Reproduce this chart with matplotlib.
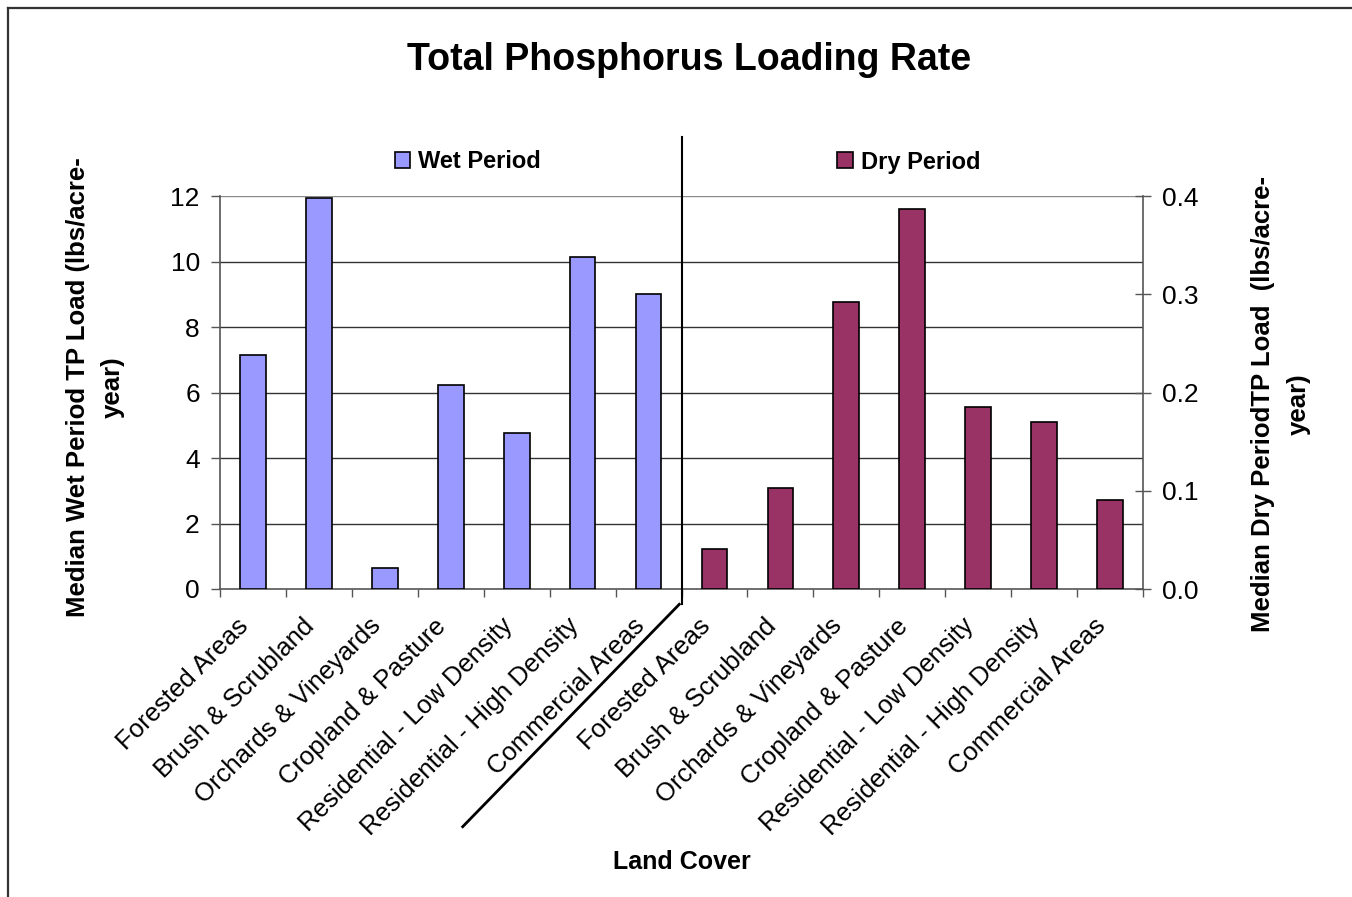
import matplotlib
matplotlib.use("Agg")
import matplotlib.pyplot as plt
import numpy as np
from matplotlib.patches import Patch
from matplotlib.lines import Line2D
import matplotlib.transforms as mtransforms

plt.rcParams['font.family'] = ['Liberation Sans', 'DejaVu Sans']

land_cover = ["Forested Areas", "Brush & Scrubland", "Orchards & Vineyards",
              "Cropland & Pasture", "Residential - Low Density",
              "Residential - High Density", "Commercial Areas"]
wet_values = [7.15, 11.95, 0.64, 6.23, 4.75, 10.15, 9.0]
dry_values = [0.041, 0.103, 0.292, 0.387, 0.185, 0.170, 0.091]
left_ticks = [0, 2, 4, 6, 8, 10, 12]
right_ticks = [0.0, 0.1, 0.2, 0.3, 0.4]

wet_color = "#9999FF"
dry_color = "#993366"

W, H = 1352, 897
fig = plt.figure(figsize=(W / 100, H / 100), dpi=100)
ax = fig.add_axes([220 / W, 1 - 589 / H, (1143 - 220) / W, (589 - 196) / H])
ax2 = ax.twinx()

n = len(land_cover)
x_wet = np.arange(n)
x_dry = np.arange(n) + n
bw = 0.39

ax.bar(x_wet, wet_values, width=bw, color=wet_color, edgecolor="black", linewidth=1.2, zorder=3)
ax2.bar(x_dry, dry_values, width=bw, color=dry_color, edgecolor="black", linewidth=1.2, zorder=3)

ax.set_xlim(-0.5, 2 * n - 0.5)
ax.set_ylim(0, 12)
ax2.set_ylim(0, 0.4)

ax.set_yticks(left_ticks)
ax.set_yticklabels([str(t) for t in left_ticks])
ax2.set_yticks(right_ticks)
ax2.set_yticklabels([f"{t:.1f}" for t in right_ticks])

for t in left_ticks[1:]:
    ax.axhline(t, color="#8a8a8a" if t == left_ticks[-1] else "#333333", linewidth=1.0, zorder=1)

# x ticks at boundaries, labels at centers
ax.set_xticks(np.arange(-0.5, 2 * n, 1.0))
ax.set_xticklabels([])
ax.set_xticks(np.arange(2 * n), minor=True)
ax.set_xticklabels(land_cover + land_cover, minor=True, rotation=45,
                   ha="right", va="center", rotation_mode="anchor", fontsize=18.5)
ax.tick_params(axis="x", which="minor", length=0, pad=24)
ax.tick_params(axis="x", which="major", direction="out", length=6, width=1, color="#555555")
ax.tick_params(axis="y", direction="out", length=6.5, width=1, color="#555555", labelsize=19, pad=8)
ax2.tick_params(axis="y", direction="inout", length=11.5, width=1, color="#555555", labelsize=19, pad=8)

shift = mtransforms.ScaledTranslation(-0.08, 0, fig.dpi_scale_trans)
for lab in ax.get_xticklabels(minor=True):
    lab.set_transform(lab.get_transform() + shift)

for a in (ax, ax2):
    a.spines["top"].set_visible(False)
    for s in ("left", "right", "bottom"):
        a.spines[s].set_color("#555555")
        a.spines[s].set_linewidth(1.2)
ax.spines["right"].set_visible(False)
ax2.spines["left"].set_visible(False)
ax2.spines["bottom"].set_visible(False)
ax.patch.set_visible(False)
ax2.set_zorder(ax.get_zorder() + 1)
ax2.patch.set_visible(False)

# Divider line between wet and dry
blend = mtransforms.blended_transform_factory(ax.transData, ax.transAxes)
ax.add_line(Line2D([n - 0.5, n - 0.5], [1.150, -0.038], transform=blend,
                   color="black", linewidth=1.5, clip_on=False, zorder=5))
# diagonal slash
fig.add_artist(Line2D([462.7 / W, 679.3 / W], [1 - 826.7 / H, 1 - 604.3 / H],
                      transform=fig.transFigure, color="black", linewidth=2))

# Labels
fig.text(689 / W, 1 - 60 / H, "Total Phosphorus Loading Rate", ha="center", va="center",
         fontsize=27, fontweight="bold")
fig.text(682 / W, 1 - 862 / H, "Land Cover", ha="center", va="center",
         fontsize=18, fontweight="bold")
fig.text(95.5 / W, 1 - 387 / H, "Median Wet Period TP Load (lbs/acre-\nyear)", ha="center", va="center",
         rotation=90, fontsize=18.5, fontweight="bold", linespacing=1.6, multialignment="center")
fig.text(1281 / W, 1 - 404 / H, "Median Dry PeriodTP Load  (lbs/acre-\nyear)", ha="center", va="center",
         rotation=90, fontsize=18.5, fontweight="bold", linespacing=1.6, multialignment="center")

# Legends
leg_kw = dict(frameon=False, handlelength=0.64, handleheight=0.64, handletextpad=0.36,
              prop={"weight": "bold", "size": 17}, borderpad=0, borderaxespad=0)
l1 = fig.legend(handles=[Patch(facecolor=wet_color, edgecolor="black", linewidth=1.2)],
                labels=["Wet Period"], loc="center", bbox_to_anchor=(468 / W, 1 - 162 / H), **leg_kw)
l2 = fig.legend(handles=[Patch(facecolor=dry_color, edgecolor="black", linewidth=1.2)],
                labels=["Dry Period"], loc="center", bbox_to_anchor=(909 / W, 1 - 162 / H), **leg_kw)

# Figure border (top and left)
fig.add_artist(Line2D([7.5 / W, 1.0], [1 - 8.5 / H, 1 - 8.5 / H], transform=fig.transFigure,
                      color="#333333", linewidth=1.6))
fig.add_artist(Line2D([7.5 / W, 7.5 / W], [1 - 8.5 / H, 0.0], transform=fig.transFigure,
                      color="#333333", linewidth=1.6))

fig.savefig("out.png", dpi=100)
